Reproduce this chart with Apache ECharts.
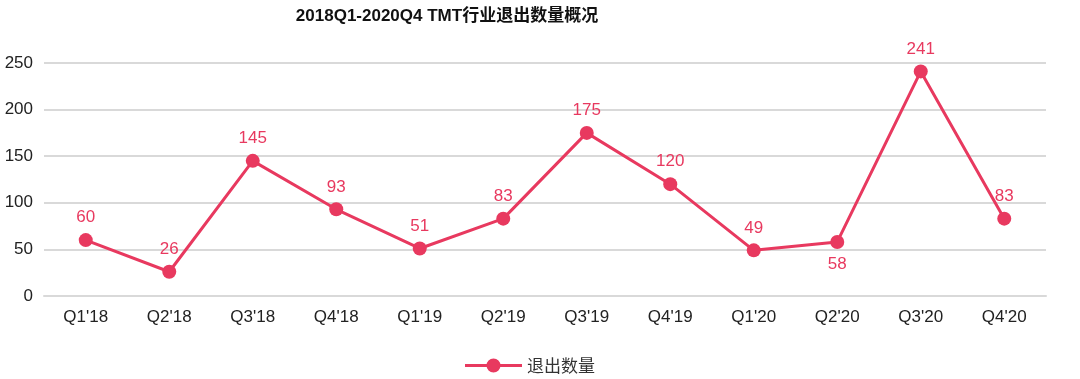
<!DOCTYPE html>
<html><head><meta charset="utf-8">
<script src="https://cdn.jsdelivr.net/npm/echarts@6/dist/echarts.min.js"></script>
<style>html,body{margin:0;padding:0;background:#fff}#c{width:1080px;height:379px}</style>
</head><body><div id="c"></div>
<script>
const categories = ["Q1'18","Q2'18","Q3'18","Q4'18","Q1'19","Q2'19","Q3'19","Q4'19","Q1'20","Q2'20","Q3'20","Q4'20"];
const exitCounts = [60,26,145,93,51,83,175,120,49,58,241,83];
const labelBelow = ["Q2'20"];
const color = '#e8395f';
const chart = echarts.init(document.getElementById('c'));
chart.setOption({
  animation:false,
  title:{text:'2018Q1-2020Q4 TMT行业退出数量概况',left:442,textAlign:'center',top:3,
    textStyle:{fontSize:17,fontWeight:'bold',color:'#111',fontFamily:'Liberation Sans, Noto Sans CJK SC'}},
  grid:{left:44,right:34,top:63,bottom:83,containLabel:false},
  legend:{bottom:0,left:460,itemWidth:57,itemHeight:14,itemGap:10,
    textStyle:{fontSize:17,color:'#333',fontFamily:'Noto Sans CJK SC'},
    data:[{name:'退出数量',icon:'path://M0,5.5H22V8.5H0Z M35,5.5H57V8.5H35Z M21.5,7A7,7 0 1,1 35.5,7A7,7 0 1,1 21.5,7Z'}]},
  xAxis:{type:'category',data:categories,boundaryGap:true,
    axisLine:{lineStyle:{color:'#d9d9d9',width:2}},axisTick:{show:false},
    axisLabel:{fontSize:17,color:'#222',margin:13,fontFamily:'Liberation Sans'}},
  yAxis:{type:'value',min:0,max:250,interval:50,
    axisLine:{show:false},axisTick:{show:false},
    splitLine:{lineStyle:{color:'#d9d9d9',width:2}},
    axisLabel:{fontSize:17,color:'#222',margin:11,fontFamily:'Liberation Sans'}},
  series:[{name:'退出数量',type:'line',data:exitCounts.map((v,i)=>({value:v,
      label:{position: labelBelow.includes(categories[i])?'bottom':'top'}})),
    symbol:'circle',symbolSize:14,
    lineStyle:{color:color,width:3},itemStyle:{color:color},
    label:{show:true,fontSize:17,color:color,distance:7,fontFamily:'Liberation Sans'}}]
});
</script></body></html>
